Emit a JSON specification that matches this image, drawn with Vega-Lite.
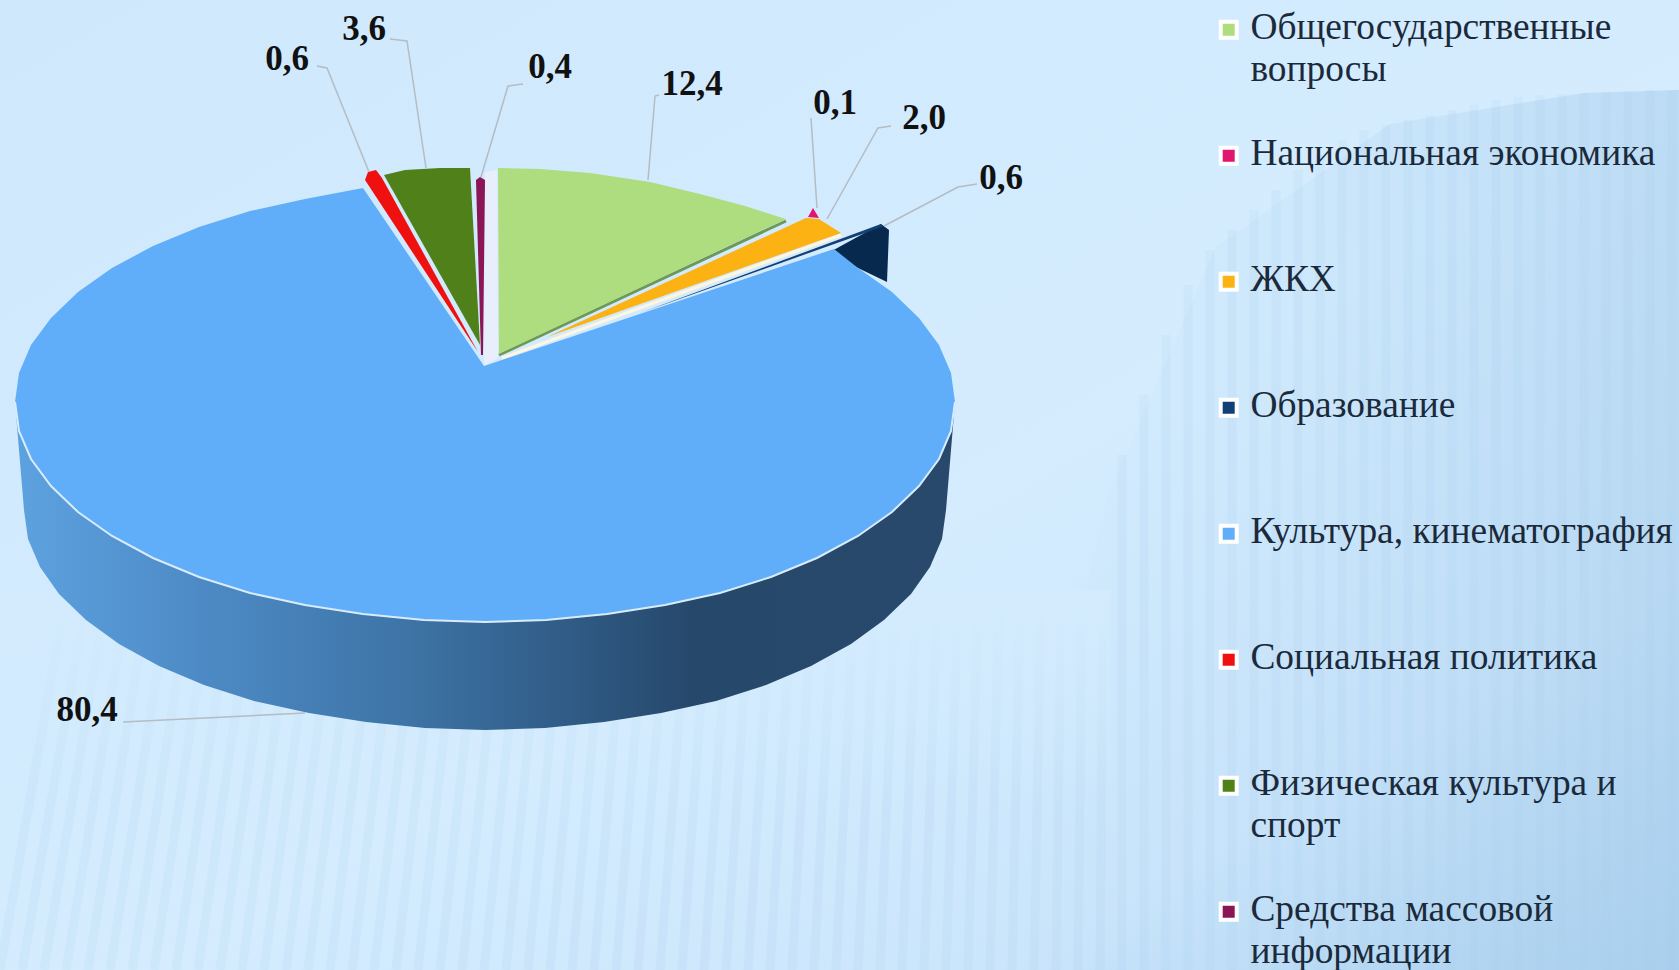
{"$schema":"https://vega.github.io/schema/vega-lite/v6.json","width":1679,"height":970,"padding":0,"autosize":{"type":"none"},"background":"#d3ebfd","config":{"view":{"stroke":null}},
"datasets":{
"bg":[{"x":0,"x2":1679,"y":0,"y2":970}],
"fade":[{"x":0,"x2":1110,"y":590,"y2":800}],
"band":[{"i":0,"x":1108,"y":495},{"i":1,"x":1216,"y":247},{"i":2,"x":1390,"y":124},{"i":3,"x":1584,"y":93},{"i":4,"x":1679,"y":90},{"i":5,"x":1679,"y":970},{"i":6,"x":1000,"y":970}],
"stripes":[{"x":65,"y":600,"x2":0},{"x":86,"y":600,"x2":22},{"x":106,"y":600,"x2":44},{"x":127,"y":600,"x2":66},{"x":148,"y":600,"x2":88},{"x":169,"y":600,"x2":110},{"x":189,"y":600,"x2":132},{"x":210,"y":600,"x2":154},{"x":231,"y":600,"x2":176},{"x":252,"y":600,"x2":198},{"x":273,"y":600,"x2":220},{"x":293,"y":600,"x2":242},{"x":314,"y":600,"x2":264},{"x":335,"y":600,"x2":286},{"x":356,"y":600,"x2":308},{"x":376,"y":600,"x2":330},{"x":397,"y":600,"x2":352},{"x":418,"y":600,"x2":374},{"x":439,"y":600,"x2":396},{"x":459,"y":600,"x2":418},{"x":480,"y":600,"x2":440},{"x":501,"y":600,"x2":462},{"x":522,"y":600,"x2":484},{"x":542,"y":600,"x2":506},{"x":563,"y":600,"x2":528},{"x":584,"y":600,"x2":550},{"x":605,"y":600,"x2":572},{"x":625,"y":600,"x2":594},{"x":646,"y":600,"x2":616},{"x":667,"y":600,"x2":638},{"x":688,"y":600,"x2":660},{"x":708,"y":600,"x2":682},{"x":729,"y":600,"x2":704},{"x":750,"y":600,"x2":726},{"x":771,"y":600,"x2":748},{"x":792,"y":600,"x2":770},{"x":812,"y":600,"x2":792},{"x":833,"y":600,"x2":814},{"x":854,"y":600,"x2":836},{"x":875,"y":600,"x2":858},{"x":895,"y":600,"x2":880},{"x":916,"y":600,"x2":902},{"x":937,"y":600,"x2":924},{"x":958,"y":600,"x2":946},{"x":978,"y":600,"x2":968},{"x":999,"y":600,"x2":990},{"x":1020,"y":600,"x2":1012},{"x":1041,"y":600,"x2":1034},{"x":1061,"y":600,"x2":1056},{"x":1082,"y":600,"x2":1078},{"x":1103,"y":600,"x2":1100},{"x":1122,"y":455,"x2":1122},{"x":1144,"y":395,"x2":1144},{"x":1166,"y":335,"x2":1166},{"x":1188,"y":285,"x2":1188},{"x":1210,"y":250,"x2":1210},{"x":1232,"y":230,"x2":1232},{"x":1254,"y":210,"x2":1254},{"x":1276,"y":190,"x2":1276},{"x":1298,"y":170,"x2":1298},{"x":1320,"y":155,"x2":1320},{"x":1342,"y":140,"x2":1342},{"x":1364,"y":130,"x2":1364},{"x":1386,"y":125,"x2":1386},{"x":1408,"y":120,"x2":1408},{"x":1430,"y":115,"x2":1430},{"x":1452,"y":110,"x2":1452},{"x":1474,"y":105,"x2":1474},{"x":1496,"y":100,"x2":1496},{"x":1518,"y":97,"x2":1518},{"x":1540,"y":95,"x2":1540},{"x":1562,"y":94,"x2":1562},{"x":1584,"y":93,"x2":1584},{"x":1606,"y":92,"x2":1606},{"x":1628,"y":91,"x2":1628},{"x":1650,"y":90,"x2":1650},{"x":1672,"y":90,"x2":1672}],
"wall":[{"i":0,"x":955,"y":402},{"i":1,"x":946,"y":510},{"i":2,"x":942,"y":539},{"i":3,"x":930,"y":567},{"i":4,"x":911,"y":594},{"i":5,"x":884,"y":620},{"i":6,"x":851,"y":644},{"i":7,"x":811,"y":666},{"i":8,"x":766,"y":685},{"i":9,"x":716,"y":701},{"i":10,"x":661,"y":713},{"i":11,"x":604,"y":722},{"i":12,"x":545,"y":728},{"i":13,"x":485,"y":730},{"i":14,"x":425,"y":728},{"i":15,"x":366,"y":722},{"i":16,"x":309,"y":713},{"i":17,"x":254,"y":701},{"i":18,"x":204,"y":685},{"i":19,"x":159,"y":666},{"i":20,"x":119,"y":644},{"i":21,"x":86,"y":620},{"i":22,"x":59,"y":594},{"i":23,"x":40,"y":567},{"i":24,"x":28,"y":539},{"i":25,"x":24,"y":510},{"i":26,"x":15,"y":402}],
"navy":[{"i":0,"x":830,"y":252},{"i":1,"x":881,"y":224},{"i":2,"x":889,"y":230},{"i":3,"x":887,"y":282},{"i":4,"x":858,"y":268}],
"slices":[
{"series":"Общегосударственные вопросы","i":0,"x":499,"y":354},{"series":"Общегосударственные вопросы","i":1,"x":498,"y":168},{"series":"Общегосударственные вопросы","i":2,"x":540,"y":169},{"series":"Общегосударственные вопросы","i":3,"x":590,"y":173},{"series":"Общегосударственные вопросы","i":4,"x":650,"y":182},{"series":"Общегосударственные вопросы","i":5,"x":700,"y":194},{"series":"Общегосударственные вопросы","i":6,"x":745,"y":206},{"series":"Общегосударственные вопросы","i":7,"x":786,"y":219},
{"series":"Национальная экономика","i":0,"x":813,"y":208},{"series":"Национальная экономика","i":1,"x":808,"y":217},{"series":"Национальная экономика","i":2,"x":819,"y":218},
{"series":"ЖКХ","i":0,"x":547,"y":337},{"series":"ЖКХ","i":1,"x":806,"y":218},{"series":"ЖКХ","i":2,"x":819,"y":219},{"series":"ЖКХ","i":3,"x":841,"y":233},
{"series":"Образование","i":0,"x":640,"y":313},{"series":"Образование","i":1,"x":881,"y":224},{"series":"Образование","i":2,"x":882,"y":227},
{"series":"Культура, кинематография","i":0,"x":484,"y":366},{"series":"Культура, кинематография","i":1,"x":834,"y":249},{"series":"Культура, кинематография","i":2,"x":858,"y":268},{"series":"Культура, кинематография","i":3,"x":892,"y":292},{"series":"Культура, кинематография","i":4,"x":919,"y":318},{"series":"Культура, кинематография","i":5,"x":939,"y":345},{"series":"Культура, кинематография","i":6,"x":951,"y":373},{"series":"Культура, кинематография","i":7,"x":955,"y":402},{"series":"Культура, кинематография","i":8,"x":951,"y":431},{"series":"Культура, кинематография","i":9,"x":939,"y":459},{"series":"Культура, кинематография","i":10,"x":919,"y":486},{"series":"Культура, кинематография","i":11,"x":892,"y":512},{"series":"Культура, кинематография","i":12,"x":858,"y":536},{"series":"Культура, кинематография","i":13,"x":817,"y":558},{"series":"Культура, кинематография","i":14,"x":771,"y":577},{"series":"Культура, кинематография","i":15,"x":720,"y":593},{"series":"Культура, кинематография","i":16,"x":665,"y":605},{"series":"Культура, кинематография","i":17,"x":607,"y":614},{"series":"Культура, кинематография","i":18,"x":546,"y":620},{"series":"Культура, кинематография","i":19,"x":485,"y":622},{"series":"Культура, кинематография","i":20,"x":424,"y":620},{"series":"Культура, кинематография","i":21,"x":363,"y":614},{"series":"Культура, кинематография","i":22,"x":305,"y":605},{"series":"Культура, кинематография","i":23,"x":250,"y":593},{"series":"Культура, кинематография","i":24,"x":199,"y":577},{"series":"Культура, кинематография","i":25,"x":153,"y":558},{"series":"Культура, кинематография","i":26,"x":112,"y":536},{"series":"Культура, кинематография","i":27,"x":78,"y":512},{"series":"Культура, кинематография","i":28,"x":51,"y":486},{"series":"Культура, кинематография","i":29,"x":31,"y":459},{"series":"Культура, кинематография","i":30,"x":19,"y":431},{"series":"Культура, кинематография","i":31,"x":15,"y":402},{"series":"Культура, кинематография","i":32,"x":19,"y":373},{"series":"Культура, кинематография","i":33,"x":31,"y":345},{"series":"Культура, кинематография","i":34,"x":51,"y":318},{"series":"Культура, кинематография","i":35,"x":78,"y":292},{"series":"Культура, кинематография","i":36,"x":112,"y":268},{"series":"Культура, кинематография","i":37,"x":153,"y":246},{"series":"Культура, кинематография","i":38,"x":199,"y":227},{"series":"Культура, кинематография","i":39,"x":250,"y":211},{"series":"Культура, кинематография","i":40,"x":305,"y":199},{"series":"Культура, кинематография","i":41,"x":363,"y":188},
{"series":"Социальная политика","i":0,"x":478,"y":352},{"series":"Социальная политика","i":1,"x":365,"y":180},{"series":"Социальная политика","i":2,"x":368,"y":172},{"series":"Социальная политика","i":3,"x":376,"y":170},{"series":"Социальная политика","i":4,"x":382,"y":178},
{"series":"Физическая культура и спорт","i":0,"x":480,"y":345},{"series":"Физическая культура и спорт","i":1,"x":384,"y":175},{"series":"Физическая культура и спорт","i":2,"x":405,"y":170},{"series":"Физическая культура и спорт","i":3,"x":440,"y":168},{"series":"Физическая культура и спорт","i":4,"x":470,"y":168},
{"series":"Средства массовой информации","i":0,"x":481,"y":355},{"series":"Средства массовой информации","i":1,"x":476,"y":180},{"series":"Средства массовой информации","i":2,"x":480,"y":177},{"series":"Средства массовой информации","i":3,"x":485,"y":180},{"series":"Средства массовой информации","i":4,"x":483,"y":355}
],
"rim":[{"i":0,"x":955,"y":402},{"i":1,"x":951,"y":431},{"i":2,"x":939,"y":459},{"i":3,"x":919,"y":486},{"i":4,"x":892,"y":512},{"i":5,"x":858,"y":536},{"i":6,"x":817,"y":558},{"i":7,"x":771,"y":577},{"i":8,"x":720,"y":593},{"i":9,"x":665,"y":605},{"i":10,"x":607,"y":614},{"i":11,"x":546,"y":620},{"i":12,"x":485,"y":622},{"i":13,"x":424,"y":620},{"i":14,"x":363,"y":614},{"i":15,"x":305,"y":605},{"i":16,"x":250,"y":593},{"i":17,"x":199,"y":577},{"i":18,"x":153,"y":558},{"i":19,"x":112,"y":536},{"i":20,"x":78,"y":512},{"i":21,"x":51,"y":486},{"i":22,"x":31,"y":459},{"i":23,"x":19,"y":431},{"i":24,"x":15,"y":402}],
"edges":[{"edge":"cream","tone":"#fdf6e0","i":0,"x":502,"y":358},{"edge":"cream","tone":"#fdf6e0","i":1,"x":841,"y":235},{"edge":"green","tone":"#6d9858","i":0,"x":499,"y":355},{"edge":"green","tone":"#6d9858","i":1,"x":786,"y":221}],
"gap":[{"i":0,"x":485,"y":172},{"i":1,"x":497,"y":170},{"i":2,"x":498,"y":358},{"i":3,"x":484,"y":366}],
"leaders":[{"series":"a","i":0,"x":390,"y":39},{"series":"a","i":1,"x":407,"y":41},{"series":"a","i":2,"x":426,"y":168},
{"series":"b","i":0,"x":317,"y":66},{"series":"b","i":1,"x":327,"y":68},{"series":"b","i":2,"x":369,"y":172},
{"series":"c","i":0,"x":523,"y":84},{"series":"c","i":1,"x":508,"y":86},{"series":"c","i":2,"x":481,"y":177},
{"series":"d","i":0,"x":659,"y":95},{"series":"d","i":1,"x":655,"y":96},{"series":"d","i":2,"x":648,"y":180},
{"series":"e","i":0,"x":811,"y":118},{"series":"e","i":1,"x":817,"y":208},
{"series":"f","i":0,"x":891,"y":126},{"series":"f","i":1,"x":878,"y":128},{"series":"f","i":2,"x":827,"y":219},
{"series":"g","i":0,"x":977,"y":184},{"series":"g","i":1,"x":958,"y":187},{"series":"g","i":2,"x":884,"y":226},
{"series":"h","i":0,"x":123,"y":722},{"series":"h","i":1,"x":305,"y":713}],
"labels":[{"label":"12,4","x":692,"y":84},{"label":"0,1","x":835,"y":103},{"label":"2,0","x":924,"y":118},{"label":"0,6","x":1001,"y":178},{"label":"80,4","x":87,"y":710},{"label":"0,6","x":287,"y":59},{"label":"3,6","x":364,"y":29},{"label":"0,4","x":550,"y":67}]
},
"encoding":{"x":{"field":"x","type":"quantitative","scale":{"domain":[0,1679]},"axis":null},"y":{"field":"y","type":"quantitative","scale":{"domain":[970,0]},"axis":null}},
"layer":[
{"data":{"name":"bg"},"mark":{"type":"rect","fill":{"gradient":"linear","x1":0,"y1":0,"x2":1,"y2":1,"stops":[{"offset":0,"color":"#cfe8fc"},{"offset":0.55,"color":"#d4ecfe"},{"offset":0.8,"color":"#cbe5fb"},{"offset":1,"color":"#aed3f0"}]}},"encoding":{"x2":{"field":"x2"},"y2":{"field":"y2"}}},
{"data":{"name":"band"},"mark":{"type":"line","strokeWidth":0,"fill":{"gradient":"linear","x1":0,"y1":0,"x2":1,"y2":0,"stops":[{"offset":0,"color":"rgba(169,208,238,0)"},{"offset":0.4,"color":"rgba(169,208,238,0.12)"},{"offset":1,"color":"rgba(164,203,234,0.5)"}]}},"encoding":{"order":{"field":"i"}}},
{"data":{"name":"stripes"},"mark":{"type":"rule","stroke":"#a9cdea","strokeWidth":9,"opacity":0.16},"encoding":{"x2":{"field":"x2"},"y2":{"datum":970}}},
{"data":{"name":"fade"},"mark":{"type":"rect","fill":{"gradient":"linear","x1":0,"y1":0,"x2":0,"y2":1,"stops":[{"offset":0,"color":"rgba(211,235,253,1)"},{"offset":1,"color":"rgba(211,235,253,0)"}]}},"encoding":{"x2":{"field":"x2"},"y2":{"field":"y2"}}},
{"data":{"name":"wall"},"mark":{"type":"line","strokeWidth":0,"fill":{"gradient":"linear","x1":0,"y1":0,"x2":1,"y2":0,"stops":[{"offset":0,"color":"#5da2e0"},{"offset":0.2,"color":"#4d8ac5"},{"offset":0.4,"color":"#3f76a9"},{"offset":0.6,"color":"#2f5a84"},{"offset":0.72,"color":"#26486b"},{"offset":1,"color":"#28496c"}]}},"encoding":{"order":{"field":"i"}}},
{"data":{"name":"navy"},"mark":{"type":"line","strokeWidth":0,"fill":"#06294d"},"encoding":{"order":{"field":"i"}}},
{"data":{"name":"gap"},"mark":{"type":"line","strokeWidth":0,"fill":"#e8eefc"},"encoding":{"order":{"field":"i"}}},
{"data":{"name":"edges"},"mark":{"type":"line","strokeWidth":3},"encoding":{"order":{"field":"i"},"detail":{"field":"edge"},"color":{"field":"tone","type":"nominal","scale":null}}},
{"data":{"name":"slices"},"mark":{"type":"line","strokeWidth":0,"filled":true},"encoding":{"order":{"field":"i"},"fill":{"field":"series","type":"nominal","scale":{"domain":["Общегосударственные вопросы","Национальная экономика","ЖКХ","Образование","Культура, кинематография","Социальная политика","Физическая культура и спорт","Средства массовой информации"],"range":["#aedd80","#e0156f","#fbb212","#123f75","#60aefa","#ef1010","#4f8019","#8c1555"]},
"legend":{"orient":"none","legendX":1210,"legendY":-33,"title":null,"symbolType":"square","symbolSize":256,"symbolStrokeColor":"#ffffff","symbolStrokeWidth":4,"symbolOpacity":1,"labelFont":"Liberation Serif","labelFontSize":37.4,"labelColor":"#1b2a3a","labelOffset":3,"labelLimit":500,"labelBaseline":"alphabetic","clipHeight":125.6,"rowPadding":0,"columns":1,"labelExpr":"datum.label=='Общегосударственные вопросы'?['Общегосударственные','вопросы']:datum.label=='Физическая культура и спорт'?['Физическая культура и','спорт']:datum.label=='Средства массовой информации'?['Средства массовой','информации']:datum.label","encoding":{"labels":{"lineHeight":{"value":42},"dy":{"value":9}}}}}}},
{"data":{"name":"rim"},"mark":{"type":"line","stroke":"#d8ecfb","strokeWidth":2},"encoding":{"order":{"field":"i"}}},
{"data":{"name":"leaders"},"mark":{"type":"line","stroke":"#b4bcc4","strokeWidth":1.5},"encoding":{"order":{"field":"i"},"detail":{"field":"series"}}},
{"data":{"name":"labels"},"mark":{"type":"text","font":"Liberation Serif","fontWeight":"bold","fontSize":35,"color":"#111111","align":"center","baseline":"middle"},"encoding":{"text":{"field":"label"}}}
]}
